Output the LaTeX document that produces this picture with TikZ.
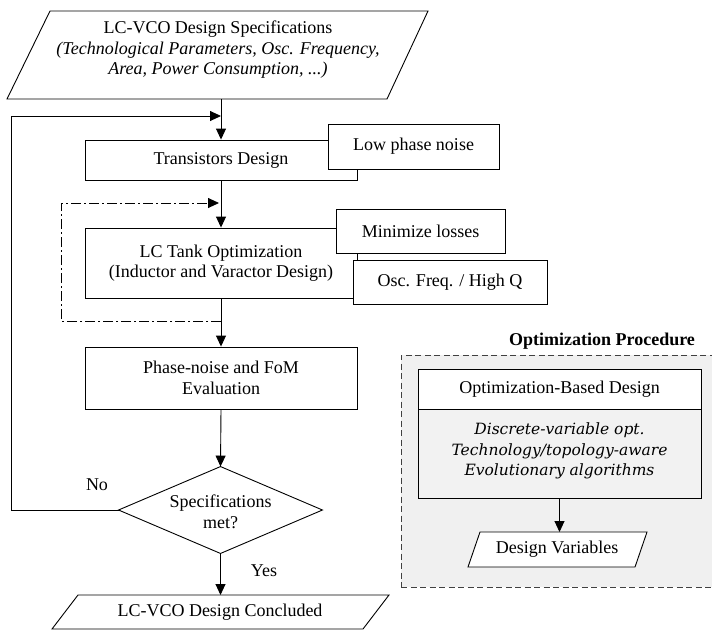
\documentclass[tikz,border=0pt]{standalone}
\usepackage{fontspec}
\setmainfont{Liberation Serif}
\newfontfamily\noteserif{DejaVu Serif}
\usetikzlibrary{arrows.meta,calc}

\begin{document}
\begin{tikzpicture}[x=1pt,y=-1pt,line width=0.9pt,
  txt/.style={font=\fontsize{18}{20.5}\selectfont, align=center, inner sep=0pt},
  box/.style={txt, draw, fill=white, rectangle},
  arr/.style={-{Triangle[length=11pt,width=10pt]}},
  loopline/.style={dash pattern=on 10pt off 3pt on 2pt off 3pt},
  groupframe/.style={draw=black!75, dash pattern=on 6pt off 3.5pt, fill=black!6},
  notes/.style={font=\noteserif\itshape\fontsize{15.5}{20.5}\selectfont, align=center, inner sep=0pt}]
\useasboundingbox (0,0) rectangle (712,630);

% ---------- design specifications (input) ----------
\coordinate (spA) at (50,11);
\coordinate (spB) at (428,11);
\coordinate (spC) at (387,99);
\coordinate (spD) at (7,99);
\draw[fill=white] (spA) -- (spB) -- (spC) -- (spD) -- cycle;
\node[txt] (sp) at (218,50) {LC-VCO Design Specifications\\
  \itshape (Technological Parameters, Osc. Frequency,\\
  \itshape Area, Power Consumption, ...)};

% ---------- main flow ----------
\node[box, minimum width=272, minimum height=40] (td) at (221,160) {Transistors Design};
\node[box, minimum width=171, minimum height=45] (lp) at (413.5,146.5) {Low phase noise};

\node[box, minimum width=272, minimum height=70] (lc) at (221,263)
  {LC Tank Optimization\\(Inductor and Varactor Design)};
\node[box, minimum width=169, minimum height=44] (ml) at (420.5,231) {Minimize losses};
\node[box, minimum width=194, minimum height=44] (of) at (450,282) {Osc. Freq. / High Q};

\node[box, minimum width=272, minimum height=62] (ph) at (221,378)
  {Phase-noise and FoM\\Evaluation};

\node[txt, minimum width=203, minimum height=86] (dm) at (220.5,510) {};
\draw[fill=white] (dm.north) -- (dm.east) -- (dm.south) -- (dm.west) -- cycle;
\node[txt] (dmt) at (220.5,512) {Specifications\\met?};

\coordinate (enA) at (78,595);
\coordinate (enB) at (389,595);
\coordinate (enC) at (363,629);
\coordinate (enD) at (52,629);
\draw[fill=white] (enA) -- (enB) -- (enC) -- (enD) -- cycle;
\node[txt] (en) at (220,612) {LC-VCO Design Concluded};

\node[txt] (no) at (97,485) {No};
\node[txt] (yes) at (264,571) {Yes};

% connectors
\draw[arr] (spD -| td.north) -- (td.north);
\draw[arr] (td.south) -- (lc.north);
\draw[arr] (lc.south) -- (ph.north);
\draw[arr] (ph.south) -- (dm.north);
\draw[arr] (dm.south) -- (enA -| dm.south);

% outer iteration loop
\coordinate (fb) at (11,116);
\draw[arr] (dm.west) -- (dm.west -| fb) -- (fb) -- (fb -| td.north);

% inner tank optimisation loop
\coordinate (lj) at (221,321);
\coordinate (lt) at (61,203);
\draw[loopline, arr] (lj) -- (lj -| lt) -- (lt) -- ($(lt -| lc.north)+(-2,0)$);

% ---------- optimization procedure ----------
\node[txt, font=\bfseries\fontsize{18}{20.5}\selectfont] (opt) at (602,341) {Optimization Procedure};
\node[groupframe, minimum width=312, minimum height=232, inner sep=0pt] (grp) at (557,471) {};

\node[box, minimum width=283, minimum height=40] (ob) at (559.5,389) {Optimization-Based Design};
\node[box, fill=black!5, minimum width=283, minimum height=89] (obm) at (559.5,453.5) {};
\node[notes] (obt) at (559.5,451) {Discrete-variable opt.\\Technology/topology-aware\\Evolutionary algorithms};

\coordinate (dvA) at (480,532);
\coordinate (dvB) at (647,532);
\coordinate (dvC) at (635,567);
\coordinate (dvD) at (468,567);
\draw[fill=white] (dvA) -- (dvB) -- (dvC) -- (dvD) -- cycle;
\node[txt] (dv) at (557,549) {Design Variables};

\draw[arr] (obm.south) -- (obm.south |- dvA);
\end{tikzpicture}
\end{document}
